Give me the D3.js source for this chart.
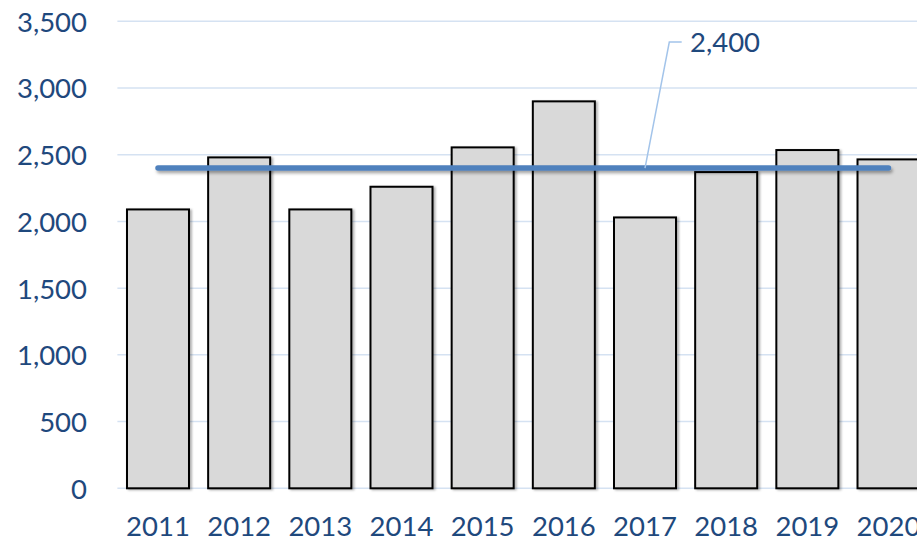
<!DOCTYPE html>
<html>
<head>
<meta charset="utf-8">
<script src="https://cdn.jsdelivr.net/npm/d3@7"></script>
<style>
  html, body { margin: 0; padding: 0; background: #fff; overflow: hidden; }
  svg { display: block; }
  text { font-family: Lato, "Open Sans", sans-serif; fill: #1F497D; }
</style>
</head>
<body>
<svg id="chart" width="917" height="541"></svg>
<script>
const years = ["2011","2012","2013","2014","2015","2016","2017","2018","2019","2020"];
const values = [2090, 2480, 2090, 2260, 2555, 2900, 2030, 2370, 2535, 2465];
const targetValue = 2400;
const targetLabel = "2,400";
const yTicks = [0, 500, 1000, 1500, 2000, 2500, 3000, 3500];

const svg = d3.select("#chart");
const margin = { left: 117.4, top: 21.3, bottom: 52.7 };
const plotRight = 929.1;
const H = 541;

const x = d3.scaleBand().domain(years).range([margin.left, plotRight]).paddingInner(0.236).paddingOuter(0.118);
const y = d3.scaleLinear().domain([0, 3500]).range([H - margin.bottom, margin.top]);

const defs = svg.append("defs");
const sh = defs.append("filter").attr("id", "shadow").attr("filterUnits", "userSpaceOnUse")
  .attr("x", 0).attr("y", 0).attr("width", 917).attr("height", 541);
sh.append("feDropShadow").attr("dx", 1.5).attr("dy", 2.5).attr("stdDeviation", 1.5).attr("flood-color", "#000").attr("flood-opacity", 0.35);
const bsh = defs.append("filter").attr("id", "barshadow").attr("filterUnits", "userSpaceOnUse")
  .attr("x", 0).attr("y", 0).attr("width", 917).attr("height", 541);
bsh.append("feDropShadow").attr("dx", 2).attr("dy", 1).attr("stdDeviation", 1.2).attr("flood-color", "#000").attr("flood-opacity", 0.3);

// gridlines
const grid = svg.append("g");
grid.selectAll("line").data(yTicks).join("line")
  .attr("x1", margin.left).attr("x2", 917)
  .attr("y1", d => y(d)).attr("y2", d => y(d))
  .attr("stroke", "#D5E2F2").attr("stroke-width", 1.5);

// y axis labels
const yAxis = svg.append("g").attr("transform", `translate(87,0)`)
  .call(d3.axisLeft(y).tickValues(yTicks).tickFormat(d3.format(",")).tickSize(0).tickPadding(0));
yAxis.select(".domain").remove();
yAxis.selectAll("text").attr("font-size", 27.5).attr("fill", "#1F497D").attr("font-family", "Lato, sans-serif").attr("dy", "0.36em");

// bars
svg.append("g").selectAll("rect").data(values).join("rect")
  .attr("x", (d, i) => x(years[i]))
  .attr("y", d => y(d))
  .attr("width", x.bandwidth())
  .attr("height", d => y(0) - y(d))
  .attr("fill", "#D9D9D9")
  .attr("stroke", "#000")
  .attr("stroke-width", 2)
  .attr("filter", "url(#barshadow)");

// x axis labels
const xAxis = svg.append("g").attr("transform", `translate(0,${y(0)})`)
  .call(d3.axisBottom(x).tickSize(0).tickPadding(0));
xAxis.select(".domain").remove();
xAxis.selectAll("text").attr("font-size", 27.5).attr("fill", "#1F497D").attr("font-family", "Lato, sans-serif").attr("dy", null).attr("y", 48);

// target line
const first = years[0], last = years[years.length - 1];
svg.append("line")
  .attr("x1", x(first) + x.bandwidth() / 2)
  .attr("x2", x(last) + x.bandwidth() / 2)
  .attr("y1", y(targetValue)).attr("y2", y(targetValue))
  .attr("stroke", "#4F81BD").attr("stroke-width", 5.5).attr("stroke-linecap", "round")
  .attr("filter", "url(#shadow)");

// label leader
const ax = x("2017") + x.bandwidth() / 2;
const ay = y(targetValue);
svg.append("polyline")
  .attr("points", `${ax},${ay} ${ax + 24.3},${ay - 126} ${ax + 36.7},${ay - 126}`)
  .attr("fill", "none").attr("stroke", "#A3C4EA").attr("stroke-width", 1.5);
svg.append("text")
  .attr("x", ax + 45).attr("y", ay - 126).attr("dy", "0.36em")
  .attr("font-size", 27.5).text(targetLabel);
</script>
</body>
</html>
